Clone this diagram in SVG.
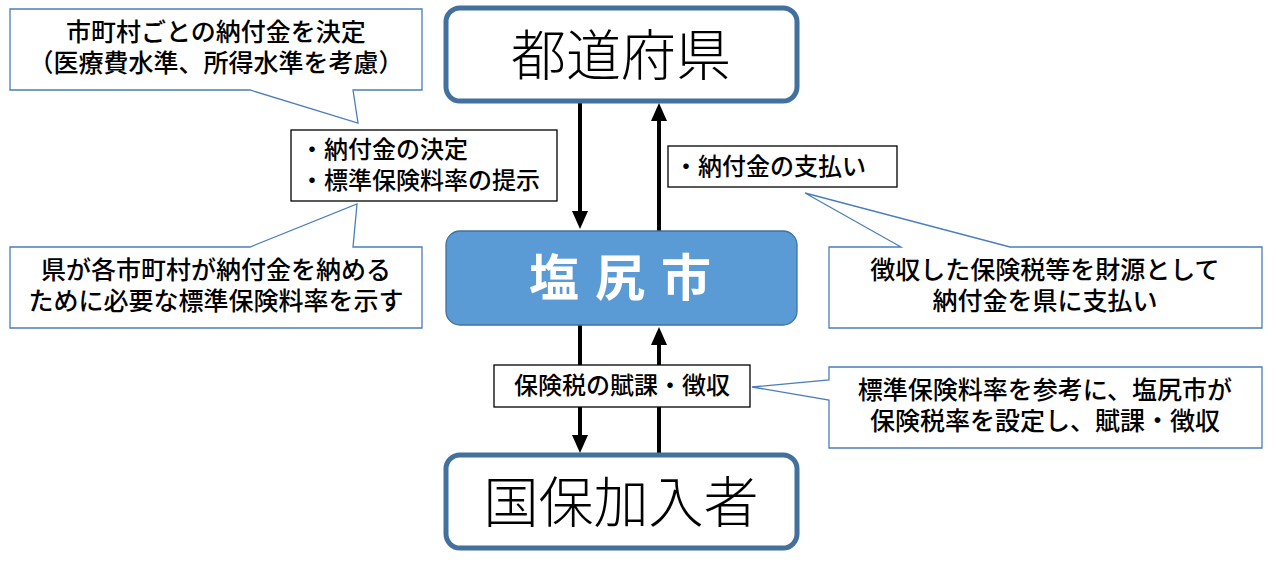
<svg xmlns="http://www.w3.org/2000/svg" width="1276" height="564" viewBox="0 0 1276 564">
<style>
.t{font-family:"Noto Sans CJK JP","Noto Sans",sans-serif;text-anchor:middle;fill:#000;font-weight:500}
.l{font-family:"Noto Sans CJK JP","Noto Sans",sans-serif;fill:#000;font-weight:500;font-size:24px}
.c{fill:#fff;stroke:#4A7EBB;stroke-width:1.3}
.b{fill:#fff;stroke:#000;stroke-width:1.3}
.n{fill:#fff;stroke:#41719C;stroke-width:5}
.a{stroke:#000;stroke-width:4;fill:none}
.big{font-family:"Noto Sans CJK JP","Noto Sans",sans-serif;text-anchor:middle;fill:#000;font-weight:300;font-size:55px}
</style>
<defs><marker id="h" markerWidth="4.5" markerHeight="4" refX="2.5" refY="2" orient="auto" markerUnits="strokeWidth"><path d="M0,0L4.5,2L0,4z" fill="#000"/></marker></defs>
<g id="connectors">
<line class="a" x1="580" y1="101" x2="580" y2="221" marker-end="url(#h)"/>
<line class="a" x1="659" y1="231" x2="659" y2="111" marker-end="url(#h)"/>
<line class="a" x1="580" y1="325" x2="580" y2="445" marker-end="url(#h)"/>
<line class="a" x1="659" y1="455" x2="659" y2="335" marker-end="url(#h)"/>
</g>
<g id="pref"><rect class="n" x="446" y="8" width="351" height="93" rx="14"/><text class="big" x="621" y="75">都道府県</text></g>
<g id="city"><rect x="446" y="231" width="351" height="94" rx="14" fill="#5B9BD5" stroke="#41719C" stroke-width="1.3"/><text x="628" y="296" font-family="Noto Sans CJK JP,sans-serif" font-size="50" font-weight="bold" fill="#fff" text-anchor="middle" letter-spacing="16">塩尻市</text></g>
<g id="insured"><rect class="n" x="446" y="455" width="351" height="93" rx="14"/><text class="big" x="621" y="522">国保加入者</text></g>
<g id="note1"><path class="c" d="M10,9H422V90H353L358,123L250,90H10Z"/><text class="t" x="216" y="41" font-size="25">市町村ごとの納付金を決定</text><text class="t" x="216" y="72" font-size="25">（医療費水準、所得水準を考慮）</text></g>
<g id="lbl1"><rect class="b" x="291" y="130" width="266" height="71"/><text class="l" x="300" y="158">・納付金の決定</text><text class="l" x="300" y="189">・標準保険料率の提示</text></g>
<g id="note2"><path class="c" d="M10,247H250L357,204L353,247H422V328H10Z"/><text class="t" x="216" y="279" font-size="25">県が各市町村が納付金を納める</text><text class="t" x="216" y="310" font-size="25">ために必要な標準保険料率を示す</text></g>
<g id="lbl2"><rect class="b" x="668" y="146" width="229" height="41"/><text class="l" x="674" y="175">・納付金の支払い</text></g>
<g id="note3"><path class="c" d="M829,247H901L805,193L1010,247H1262V328H829Z"/><text class="t" x="1045" y="279" font-size="25">徴収した保険税等を財源として</text><text class="t" x="1045" y="310" font-size="25">納付金を県に支払い</text></g>
<g id="lbl3"><rect class="b" x="494" y="365" width="256" height="42"/><text class="t" x="622" y="394" font-size="24">保険税の賦課・徴収</text></g>
<g id="note4"><path class="c" d="M829,367H1262V448H829V400L752,387L829,380Z"/><text class="t" x="1045" y="399" font-size="25">標準保険料率を参考に、塩尻市が</text><text class="t" x="1045" y="430" font-size="25">保険税率を設定し、賦課・徴収</text></g>
</svg>
